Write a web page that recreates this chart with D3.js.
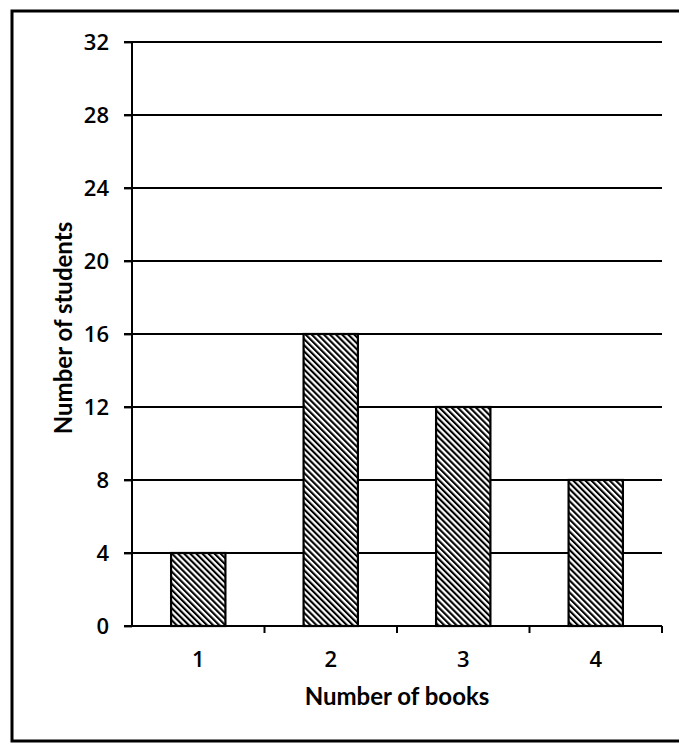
<!DOCTYPE html>
<html>
<head>
<meta charset="utf-8">
<script src="https://cdn.jsdelivr.net/npm/d3@7"></script>
<style>
  html, body { margin: 0; padding: 0; background: #fff; }
  svg { display: block; }
</style>
</head>
<body>
<svg id="chart" width="679" height="744"></svg>
<script>
const categories = ["1", "2", "3", "4"];
const values = [4, 16, 12, 8];
const yTicks = [0, 4, 8, 12, 16, 20, 24, 28, 32];
const xTitle = "Number of books";
const yTitle = "Number of students";

const svg = d3.select("#chart");
const font = "Lato, 'Open Sans', sans-serif";
const tickFont = "'Open Sans', Lato, sans-serif";

const x0 = 132, x1 = 662, yTop = 42, yBot = 626;

const x = d3.scaleBand().domain(categories).range([x0, x1]).paddingInner(0.59).paddingOuter(0.295);
const xb = d3.scaleBand().domain(categories).range([x0, x1]);
const y = d3.scaleLinear().domain([0, 32]).range([yBot, yTop]);

// pattern
const defs = svg.append("defs");
const pat = defs.append("pattern")
  .attr("id", "hatch")
  .attr("patternUnits", "userSpaceOnUse")
  .attr("width", 4.3).attr("height", 4.3)
  .attr("patternTransform", "rotate(-45)");
pat.append("rect").attr("width", 4.3).attr("height", 4.3).attr("fill", "#fff");
pat.append("line").attr("x1", 1).attr("y1", 0).attr("x2", 1).attr("y2", 4.3)
  .attr("stroke", "#000").attr("stroke-width", 2.2);

// frame
svg.append("rect")
  .attr("x", 12).attr("y", 11).attr("width", 680).attr("height", 730)
  .attr("fill", "none").attr("stroke", "#000").attr("stroke-width", 3);

// gridlines (with outer tick part)
svg.append("g").selectAll("line").data(yTicks.filter(d => d > 0)).join("line")
  .attr("x1", x0 - 8).attr("x2", x1)
  .attr("y1", d => y(d)).attr("y2", d => y(d))
  .attr("stroke", "#000").attr("stroke-width", 1.8);

// y axis
const yAxis = d3.axisLeft(y).tickValues(yTicks).tickSize(8).tickPadding(15);
const gy = svg.append("g").attr("transform", `translate(${x0},0)`).call(yAxis);
gy.select(".domain").attr("stroke", "#000").attr("stroke-width", 2).attr("d", `M-8,${yTop}H0V${yBot}`);
gy.selectAll(".tick line").attr("stroke", "#000").attr("stroke-width", 1.8);
gy.selectAll(".tick text").attr("font-family", tickFont).attr("font-size", 22)
  .attr("font-weight", 600).attr("fill", "#000");

// bars
svg.append("g").selectAll("rect").data(values).join("rect")
  .attr("x", (d, i) => x(categories[i]))
  .attr("width", x.bandwidth())
  .attr("y", d => y(d))
  .attr("height", d => yBot - y(d))
  .attr("fill", "url(#hatch)")
  .attr("stroke", "#000").attr("stroke-width", 2.2);

// x axis
const gx = svg.append("g").attr("transform", `translate(0,${yBot})`);
gx.append("line").attr("x1", x0 - 8).attr("x2", x1).attr("y1", 0).attr("y2", 0)
  .attr("stroke", "#000").attr("stroke-width", 2);
const bounds = categories.map(c => xb(c) + xb.bandwidth());
gx.selectAll("line.tk").data(bounds).join("line").attr("class", "tk")
  .attr("x1", d => d).attr("x2", d => d).attr("y1", 0).attr("y2", 7)
  .attr("stroke", "#000").attr("stroke-width", 2);
gx.selectAll("text").data(categories).join("text")
  .attr("x", d => xb(d) + xb.bandwidth() / 2)
  .attr("y", 41)
  .attr("text-anchor", "middle")
  .attr("font-family", tickFont).attr("font-size", 22).attr("font-weight", 600).attr("fill", "#000")
  .text(d => d);

// titles
svg.append("text")
  .attr("x", 397).attr("y", 705)
  .attr("text-anchor", "middle")
  .attr("font-family", font).attr("font-size", 24).attr("font-weight", "bold")
  .text(xTitle);

svg.append("text")
  .attr("transform", "translate(72,328) rotate(-90)")
  .attr("text-anchor", "middle")
  .attr("font-family", font).attr("font-size", 24).attr("font-weight", "bold")
  .text(yTitle);
</script>
</body>
</html>
